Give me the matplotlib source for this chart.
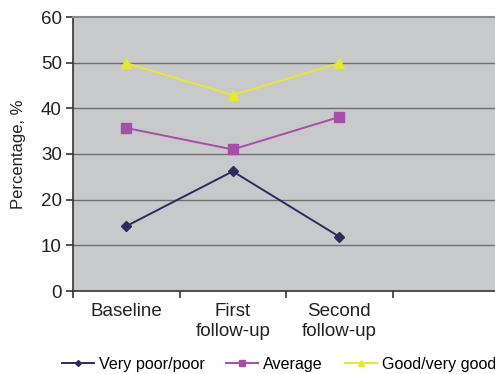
import numpy as np
import matplotlib
matplotlib.use("Agg")
import matplotlib.pyplot as plt

plt.rcParams['font.family'] = ['Liberation Sans', 'DejaVu Sans']

## chart data
categories = ['Baseline', 'First\nfollow-up', 'Second\nfollow-up']
very_poor = [14.2, 26.2, 11.9]
average = [35.7, 31.0, 38.1]
good = [49.9, 42.9, 49.9]
series_names = ['Very poor/poor', 'Average', 'Good/very good']

fig = plt.figure(figsize=(4.95, 3.74), dpi=100)
ax = fig.add_axes([73/495, 83/374, 426/495, 274/374])
ax.set_facecolor('#c8c9cb')

x = np.arange(len(categories))
ax.plot(x, very_poor, color='#2e2b5f', marker='D', markersize=5, lw=1.4, label=series_names[0])
ax.plot(x, average, color='#a64fa6', marker='s', markersize=6.5, lw=1.4, label=series_names[1])
ax.plot(x, good, color='#e8e830', marker='^', markersize=7, lw=1.4, label=series_names[2])

ax.set_xlim(-0.5, 3.5)
ax.set_ylim(0, 60)
ax.set_yticks(np.arange(0, 61, 10))
for yv in range(10, 60, 10):
    ax.axhline(yv, color='#6e6e6e', lw=1.0, zorder=0.5)

# category boundaries as major ticks, labels at centres
ax.set_xticks([-0.5, 0.5, 1.5, 2.5])
ax.set_xticklabels([])
ax.set_xticks(x, minor=True)
ax.set_xticklabels(categories, minor=True)
ax.tick_params(axis='x', which='minor', length=0, pad=9, labelsize=13.5, colors='#222222')
ax.tick_params(axis='x', which='major', length=5, width=1.2, color='#333333', direction='out')
ax.tick_params(axis='y', length=5, width=1.2, color='#333333', labelsize=13.5,
               labelcolor='#222222', pad=3)

ax.spines['top'].set_color('#8a8a8a')
ax.spines['top'].set_linewidth(1.5)
ax.spines['right'].set_visible(False)
ax.spines['left'].set_color('#333333')
ax.spines['left'].set_linewidth(1.2)
ax.spines['bottom'].set_color('#333333')
ax.spines['bottom'].set_linewidth(1.2)

ax.set_ylabel('Percentage, %', fontsize=12, color='#222222', labelpad=11)

fig.legend(loc='center left', bbox_to_anchor=(47/495, 1 - 364/374), ncol=3, frameon=False,
           fontsize=11.6, handlelength=2.0, columnspacing=1.35, handletextpad=0.3,
           markerscale=0.6)

plt.savefig('out.png', dpi=100)
